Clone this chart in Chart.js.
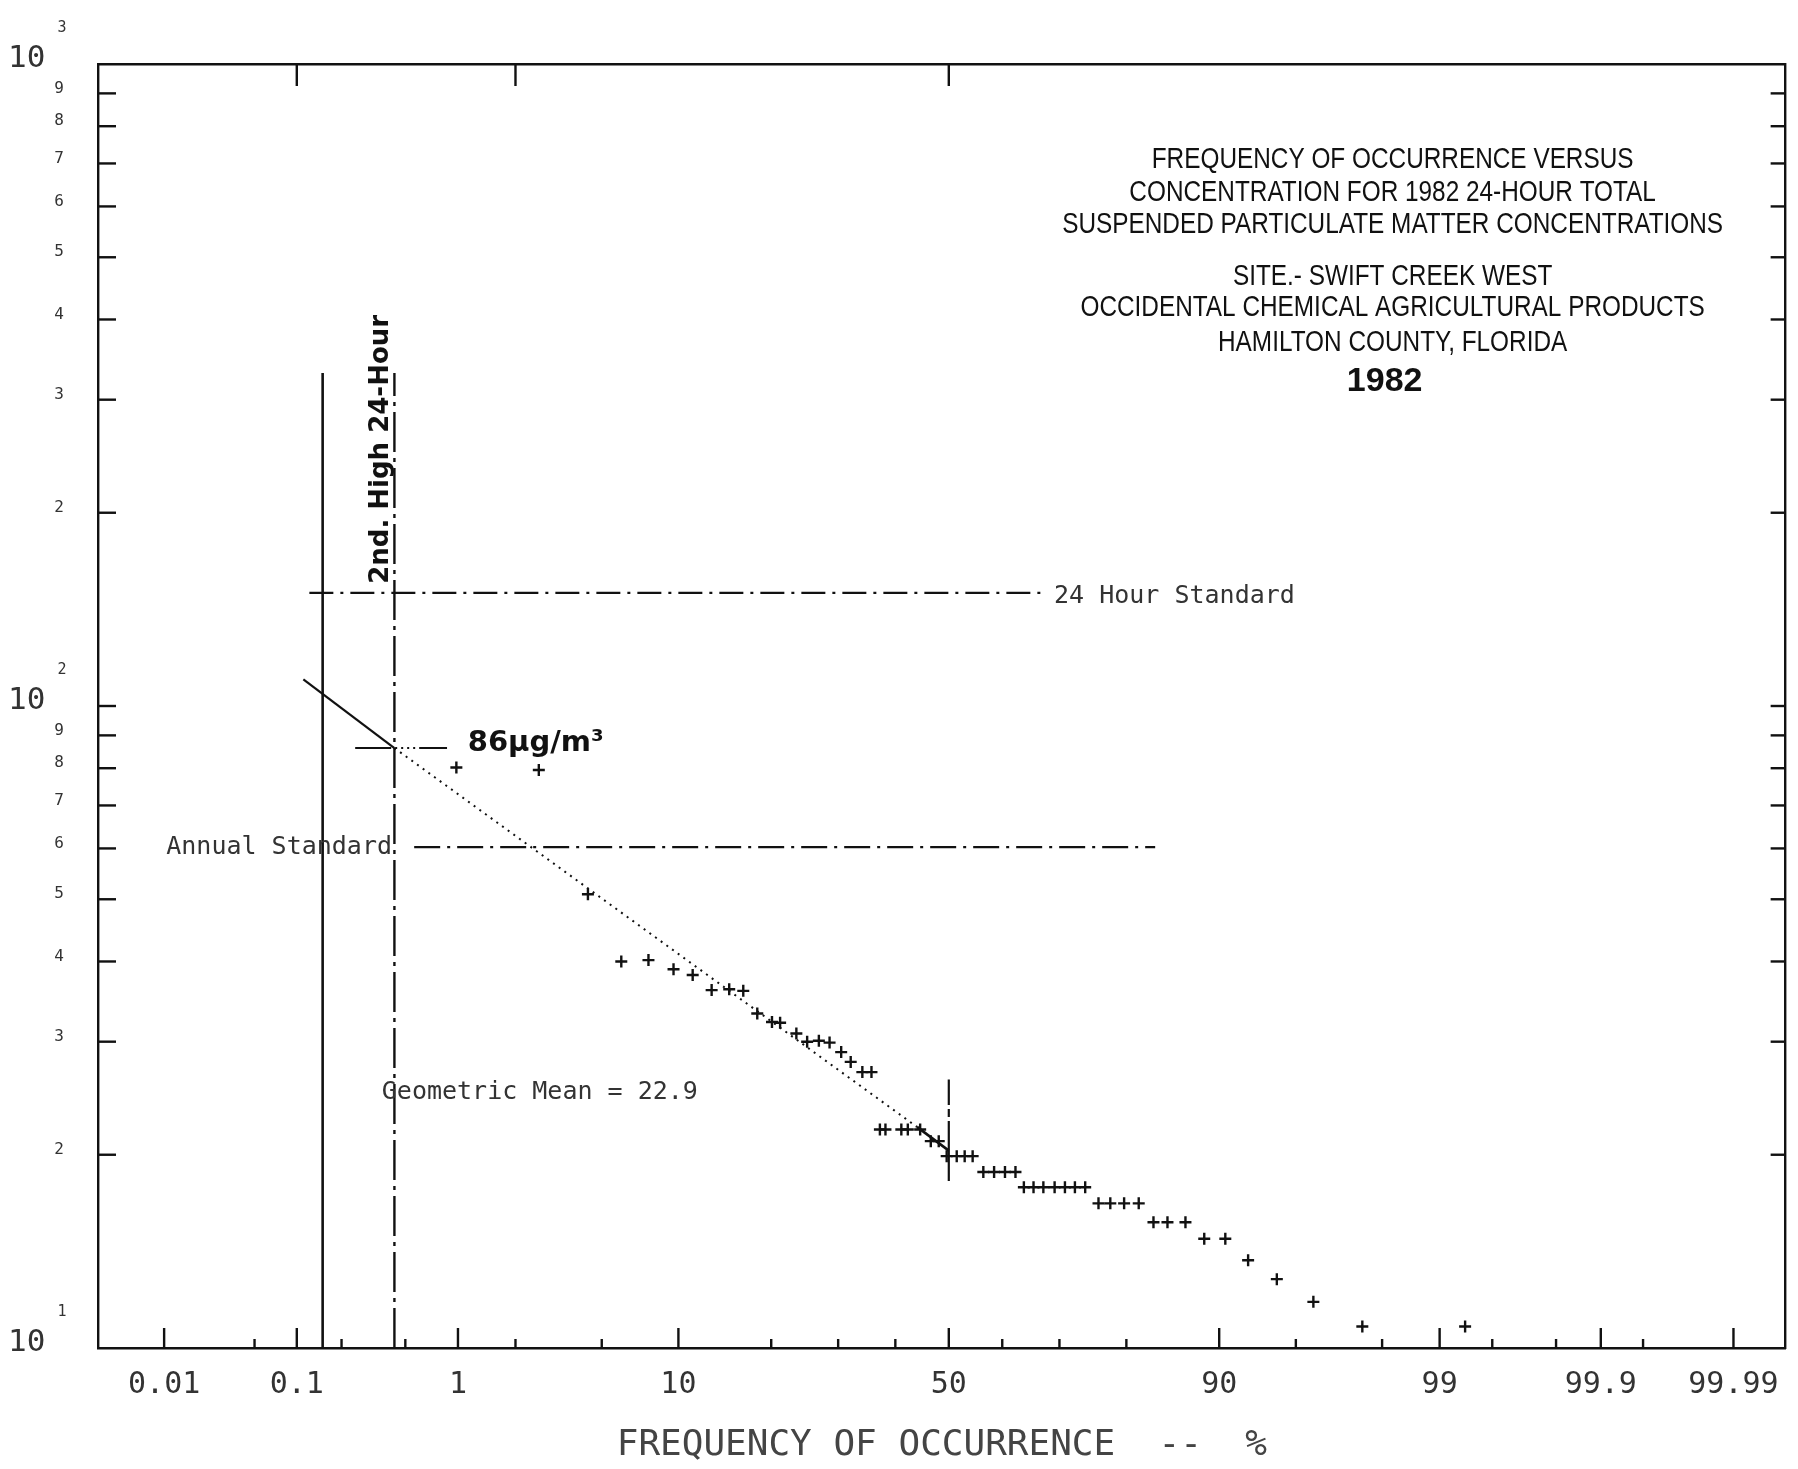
<!DOCTYPE html>
<html>
<head>
<meta charset="utf-8">
<title>TSP frequency of occurrence 1982</title>
<script src="https://cdn.jsdelivr.net/npm/chart.js@4.4.6/dist/chart.umd.js"></script>
<style>
  html, body { margin: 0; padding: 0; background: #fff; }
  canvas { display: block; }
</style>
</head>
<body>
<canvas id="myChart" width="1798" height="1469"></canvas>
<script>
// frequency of occurrence (%) and 24-hour TSP (ug/m3)
const freqPct = [0.98, 2.6, 4.36, 6.03, 7.73, 9.6, 11.24, 13.05, 14.9, 16.5, 18.2, 20.1, 21.2,
  23.5, 25.1, 26.9, 28.6, 30.5, 32.1, 34.1, 35.7,
  37.2, 38.2, 41.1, 42.3, 44.6, 46.6, 48.1,
  49.6, 51.5, 53.0, 54.5, 56.5, 58.5, 60.5, 62.4,
  63.9, 65.6, 67.3, 69.2, 70.9, 72.5, 74.1,
  76.1, 77.8, 79.7, 81.6, 83.4, 85.0, 86.9, 88.7, 90.5,
  92.2, 94.0, 95.8, 97.5, 99.28];
const tspConc = [80.2, 79.5, 50.9, 40.0, 40.2, 38.9, 38.1, 36.1, 36.2, 36.0, 33.2, 32.2, 32.1,
  30.9, 30.0, 30.1, 29.9, 28.9, 27.9, 26.9, 26.9,
  21.9, 21.9, 21.9, 21.9, 21.9, 21.0, 21.0,
  19.9, 19.9, 19.9, 19.9, 18.8, 18.8, 18.8, 18.8,
  17.8, 17.8, 17.8, 17.8, 17.8, 17.8, 17.8,
  16.8, 16.8, 16.8, 16.8, 15.7, 15.7, 15.7, 14.8, 14.8,
  13.7, 12.8, 11.8, 10.8, 10.8];

// fitted log-normal line, read at its end points
const fitFreq = [0.111, 0.43, 44, 50];
const fitConc = [110, 86, 22.1, 20.3];

// reference lines
const std24Freq = [0.122, 67.8];
const std24Conc = [150, 150];
const annualFreq = [0.564, 83.6];
const annualConc = [60.3, 60.3];
const highLinesFreq = [0.15, 0.43];
const highLinesConc = [10, 330];
const mark86Freq = [0.245, 0.87];
const mark86Conc = [86, 86];
const meanFreq = [50, 50];
const meanConc = [18.2, 26.2];

// axis ticks
const xTickValues = [0.01, 0.05, 0.1, 0.2, 0.5, 1, 2, 5, 10, 20, 30, 40, 50, 60, 70, 80, 90, 95, 98, 99, 99.5, 99.8, 99.9, 99.95, 99.99];
const xTickLabels = ['0.01', '', '0.1', '', '', '1', '', '', '10', '', '', '', '50', '', '', '', '90', '', '', '99', '', '', '99.9', '', '99.99'];
const xTopTicks = [0.1, 2, 50];
const yTickValues = [10, 20, 30, 40, 50, 60, 70, 80, 90, 100, 200, 300, 400, 500, 600, 700, 800, 900, 1000];
const yTickLabels = ['10 ', '2', '3', '4', '5', '6', '7', '8', '9', '10 ', '2', '3', '4', '5', '6', '7', '8', '9', '10 '];

const plotter = "'DejaVu Sans Mono', monospace";

// inverse of the normal distribution (Acklam)
function probit(p) {
  const a = [-3.969683028665376e+01, 2.209460984245205e+02, -2.759285104469687e+02, 1.383577518672690e+02, -3.066479806614716e+01, 2.506628277459239e+00];
  const b = [-5.447609879822406e+01, 1.615858368580409e+02, -1.556989798598866e+02, 6.680131188771972e+01, -1.328068155288572e+01];
  const c = [-7.784894002430293e-03, -3.223964580411365e-01, -2.400758277161838e+00, -2.549732539343734e+00, 4.374664141464968e+00, 2.938163982698783e+00];
  const d = [7.784695709041462e-03, 3.224671290700398e-01, 2.445134137142996e+00, 3.754408661907416e+00];
  const pl = 0.02425;
  if (p < pl) {
    const q = Math.sqrt(-2 * Math.log(p));
    return (((((c[0]*q+c[1])*q+c[2])*q+c[3])*q+c[4])*q+c[5]) / ((((d[0]*q+d[1])*q+d[2])*q+d[3])*q+1);
  }
  if (p > 1 - pl) {
    const q = Math.sqrt(-2 * Math.log(1 - p));
    return -(((((c[0]*q+c[1])*q+c[2])*q+c[3])*q+c[4])*q+c[5]) / ((((d[0]*q+d[1])*q+d[2])*q+d[3])*q+1);
  }
  const q = p - 0.5, r = q * q;
  return (((((a[0]*r+a[1])*r+a[2])*r+a[3])*r+a[4])*r+a[5])*q / (((((b[0]*r+b[1])*r+b[2])*r+b[3])*r+b[4])*r+1);
}

function normCdf(z) {
  const t = 1 / (1 + 0.3275911 * Math.abs(z) / Math.SQRT2);
  const y = 1 - (((((1.061405429*t - 1.453152027)*t) + 1.421413741)*t - 0.284496736)*t + 0.254829592)*t*Math.exp(-z*z/2);
  return z >= 0 ? (1 + y) / 2 : (1 - y) / 2;
}

// probability (normal) axis
class ProbabilityScale extends Chart.Scale {
  determineDataLimits() {
    this.min = this.options.min;
    this.max = this.options.max;
  }
  buildTicks() {
    return xTickValues.map(v => ({ value: v }));
  }
  configure() {
    super.configure();
    this._zStart = probit(this.min / 100);
    this._zRange = probit(this.max / 100) - this._zStart;
  }
  getLabelForValue(v) { return String(v); }
  getPixelForValue(v) {
    return this.getPixelForDecimal((probit(v / 100) - this._zStart) / this._zRange);
  }
  getValueForPixel(px) {
    return 100 * normCdf(this._zStart + this.getDecimalForPixel(px) * this._zRange);
  }
}
ProbabilityScale.id = 'probability';
ProbabilityScale.defaults = {};
Chart.register(ProbabilityScale);

function pts(xs, ys) { return xs.map((x, i) => ({ x: x, y: ys[i] })); }

function lineSet(data, width, dash) {
  return {
    type: 'line', data: data, borderColor: '#111', borderWidth: width,
    borderDash: dash || [], pointRadius: 0, fill: false, tension: 0
  };
}

// text placed on the plot, anchored in data units
const notes = [
  { text: '24 Hour Standard', x: 69.1, y: 148, font: '25px ' + plotter, color: '#333' },
  { text: 'Annual Standard', x: 0.0104, y: 60.3, font: '25px ' + plotter, color: '#333' },
  { text: 'Geometric Mean = 22.9', x: 0.36, y: 25.0, font: '25px ' + plotter, color: '#333' },
  { text: '86\u00b5g/m\u00b3', x: 1.13, y: 87.5, font: 'bold 29px "DejaVu Sans"', color: '#111' }
];

const titleLines = [
  'FREQUENCY OF OCCURRENCE VERSUS',
  'CONCENTRATION FOR 1982 24-HOUR TOTAL',
  'SUSPENDED PARTICULATE MATTER CONCENTRATIONS',
  'SITE.- SWIFT CREEK WEST',
  'OCCIDENTAL CHEMICAL AGRICULTURAL PRODUCTS',
  'HAMILTON COUNTY, FLORIDA'
];

const paperPlugin = {
  id: 'paper',
  beforeDraw(chart) {
    const ctx = chart.ctx;
    ctx.save();
    ctx.fillStyle = '#fff';
    ctx.fillRect(0, 0, chart.width, chart.height);
    ctx.restore();
  },
  afterDraw(chart) {
    const ctx = chart.ctx;
    const xs = chart.scales.x, ys = chart.scales.y;
    const area = chart.chartArea;
    ctx.save();
    ctx.strokeStyle = '#111';
    ctx.lineWidth = 2.4;

    // inward tick marks, bottom and top
    xs.ticks.forEach((t, i) => {
      const px = xs.getPixelForValue(t.value);
      const len = xTickLabels[i] ? 20 : 9;
      ctx.beginPath(); ctx.moveTo(px, area.bottom); ctx.lineTo(px, area.bottom - len); ctx.stroke();
    });
    xTopTicks.forEach(v => {
      const px = xs.getPixelForValue(v);
      ctx.beginPath(); ctx.moveTo(px, area.top); ctx.lineTo(px, area.top + 22); ctx.stroke();
    });
    // inward tick marks, left and right
    ys.ticks.forEach(t => {
      if (t.value <= ys.min || t.value >= ys.max) return;
      const py = ys.getPixelForValue(t.value);
      ctx.beginPath(); ctx.moveTo(area.left, py); ctx.lineTo(area.left + 18, py); ctx.stroke();
      ctx.beginPath(); ctx.moveTo(area.right, py); ctx.lineTo(area.right - 15, py); ctx.stroke();
    });

    // exponents of the decade labels
    ctx.fillStyle = '#333';
    ctx.font = '15px ' + plotter;
    ctx.textAlign = 'center';
    ctx.textBaseline = 'middle';
    yTickValues.forEach(v => {
      const e = Math.log10(v);
      if (Math.abs(e - Math.round(e)) > 1e-9) return;
      ctx.fillText(String(Math.round(e)), 62, ys.getPixelForValue(v) - 36);
    });

    // notes on the plot
    notes.forEach(n => {
      ctx.font = n.font;
      ctx.fillStyle = n.color;
      ctx.textAlign = 'left';
      ctx.textBaseline = 'middle';
      ctx.fillText(n.text, xs.getPixelForValue(n.x), ys.getPixelForValue(n.y));
    });

    // handwritten vertical note beside the 2nd-high line
    ctx.save();
    ctx.translate(xs.getPixelForValue(0.43) - 6, ys.getPixelForValue(155));
    ctx.rotate(-Math.PI / 2);
    ctx.font = 'bold 26px "DejaVu Sans"';
    ctx.fillStyle = '#111';
    ctx.textAlign = 'left';
    ctx.textBaseline = 'alphabetic';
    ctx.fillText('2nd. High 24-Hour', 0, 0);
    ctx.restore();

    // title block
    const cx = area.right - 393;
    const rows = [96, 129, 161, 213, 244, 279];
    ctx.fillStyle = '#111';
    ctx.textAlign = 'center';
    ctx.textBaseline = 'middle';
    titleLines.forEach((line, i) => {
      ctx.save();
      ctx.translate(cx, area.top + rows[i]);
      ctx.scale(0.84, 1);
      ctx.font = '29px "Liberation Sans", Arial, sans-serif';
      ctx.fillText(line, 0, 0);
      ctx.restore();
    });
    ctx.font = 'bold 34px "Liberation Sans", Arial, sans-serif';
    ctx.fillText('1982', cx - 8, area.top + 318);
    ctx.restore();
  }
};

const ctx = document.getElementById('myChart').getContext('2d');
const myChart = new Chart(ctx, {
  type: 'scatter',
  data: {
    datasets: [
      {
        label: '24-hour TSP',
        data: pts(freqPct, tspConc),
        pointStyle: 'cross',
        pointRadius: 6,
        pointBorderWidth: 2.4,
        borderColor: '#111',
        backgroundColor: '#111'
      },
      lineSet(pts(fitFreq.slice(0, 2), fitConc.slice(0, 2)), 2.2),
      lineSet(pts(fitFreq.slice(1, 3), fitConc.slice(1, 3)), 2, [2, 5]),
      lineSet(pts(fitFreq.slice(2, 4), fitConc.slice(2, 4)), 2.6),
      lineSet(pts(std24Freq, std24Conc), 2.2, [24, 7, 3, 7]),
      lineSet(pts(annualFreq, annualConc), 2.2, [26, 7, 3, 7]),
      lineSet(pts([highLinesFreq[0], highLinesFreq[0]], highLinesConc), 2.6),
      lineSet(pts([highLinesFreq[1], highLinesFreq[1]], highLinesConc), 2.4, [40, 6, 4, 6]),
      lineSet(pts(mark86Freq, mark86Conc), 2, [36, 4, 2, 4, 2, 4, 2, 4, 2, 4]),
      lineSet(pts(meanFreq, meanConc), 2.2, [60, 4, 8, 4])
    ]
  },
  options: {
    responsive: false,
    devicePixelRatio: 1,
    animation: false,
    events: [],
    layout: { padding: { left: 0, right: 8, top: 64, bottom: 0 } },
    plugins: {
      legend: { display: false },
      tooltip: { enabled: false },
      title: { display: false }
    },
    scales: {
      x: {
        type: 'probability',
        position: 'bottom',
        min: 0.00276,
        max: 99.99635,
        afterFit: (s) => { s.height = 121; },
        grid: { display: false, drawTicks: false },
        border: { display: true, color: '#111', width: 2.4, dash: [26, 4, 3, 4] },
        ticks: {
          autoSkip: false,
          maxRotation: 0,
          padding: 19,
          color: '#333',
          font: { family: plotter, size: 30 },
          callback: (value, i) => xTickLabels[i]
        },
        title: {
          display: true,
          text: 'FREQUENCY OF OCCURRENCE  --  %',
          color: '#444',
          font: { family: plotter, size: 36 },
          padding: { top: 0, bottom: 2 }
        }
      },
      x2: {
        type: 'linear',
        position: 'top',
        min: 0, max: 1,
        afterFit: (s) => { s.height = 0; },
        grid: { display: false, drawTicks: false },
        border: { display: true, color: '#111', width: 2.4, dash: [30, 5, 3, 5] },
        ticks: { display: false }
      },
      y: {
        type: 'logarithmic',
        position: 'left',
        min: 10,
        max: 1000,
        afterFit: (s) => { s.width = 98; },
        afterBuildTicks: (s) => { s.ticks = yTickValues.map(v => ({ value: v })); },
        grid: { display: false, drawTicks: false },
        border: { display: true, color: '#111', width: 2.4, dash: [26, 5, 3, 5] },
        ticks: {
          autoSkip: false,
          padding: 34,
          labelOffset: -5,
          color: '#333',
          font: (c) => {
            const v = c.tick ? c.tick.value : 0;
            const e = Math.log10(v);
            return Math.abs(e - Math.round(e)) < 1e-9
              ? { family: plotter, size: 31 }
              : { family: plotter, size: 16 };
          },
          callback: (value, i) => yTickLabels[i]
        }
      },
      y2: {
        type: 'logarithmic',
        position: 'right',
        min: 10,
        max: 1000,
        afterFit: (s) => { s.width = 0; },
        grid: { display: false, drawTicks: false },
        border: { display: true, color: '#111', width: 2.4 },
        ticks: { display: false }
      }
    }
  },
  plugins: [paperPlugin]
});
</script>
</body>
</html>
